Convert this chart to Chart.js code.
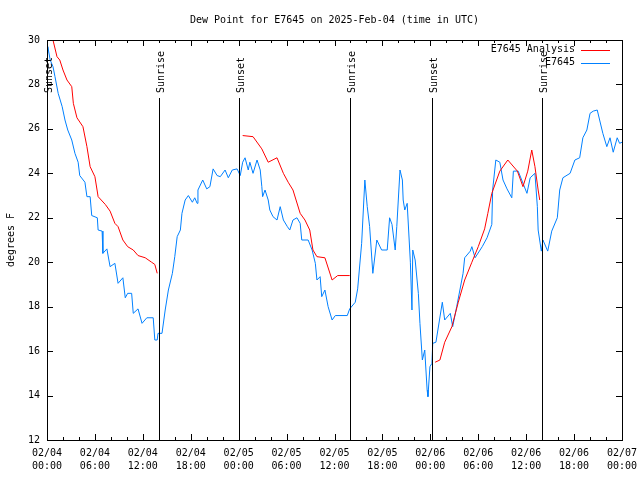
<!DOCTYPE html>
<html>
<head>
<meta charset="utf-8">
<script src="https://cdn.jsdelivr.net/npm/chart.js@4"></script>
<style>
  body { margin: 0; background: #fff; }
  #wrap { width: 640px; height: 480px; }
</style>
</head>
<body>
<div id="wrap"><canvas id="myChart" width="640" height="480"></canvas></div>
<script>
// hours since 02/04 00:00 UTC
const obsHours = [0.0, 0.1, 0.4, 0.75, 1.0, 1.4, 1.9, 2.25, 2.6, 3.1, 3.5, 3.9, 4.1, 4.75, 5.0, 5.4, 5.6, 6.3, 6.4, 6.9,
  7.0, 7.5, 7.9, 8.5, 8.9, 9.5, 9.8, 10.1, 10.6, 10.8, 11.4, 11.9, 12.5, 13.3, 13.5, 13.8, 13.9, 14.4, 14.8, 15.2,
  15.7, 16.0, 16.3, 16.7, 16.9, 17.3, 17.7, 18.2, 18.5, 18.8, 18.9, 19.5, 20.0, 20.4, 20.8, 21.3, 21.7, 22.3, 22.7, 23.2,
  23.8, 24.2, 24.5, 24.8, 25.2, 25.4, 25.8, 26.3, 26.7, 26.9, 27.0, 27.3, 27.7, 27.9, 28.3, 28.8, 29.2, 29.6, 30.1, 30.4,
  30.8, 31.3, 31.7, 31.9, 32.7, 33.2, 33.6, 33.8, 34.2, 34.4, 34.8, 35.2, 35.7, 36.1, 37.6, 37.9, 38.6, 38.9, 39.4, 39.8,
  40.1, 40.4, 40.8, 41.3, 41.9, 42.6, 42.9, 43.2, 43.6, 43.8, 44.2, 44.5, 44.6, 44.8, 45.1, 45.5, 45.7, 45.8, 46.1, 46.5,
  46.7, 47.0, 47.3, 47.6, 47.7, 47.95, 48.2, 48.3, 48.7, 49.5, 49.8, 50.5, 50.8, 51.3, 52.1, 52.3, 53.0, 53.2, 53.6, 54.5,
  55.1, 55.7, 55.8, 56.2, 56.7, 57.1, 57.6, 58.2, 58.4, 59.0, 60.1, 60.5, 61.1, 61.4, 61.5, 61.9, 62.1, 62.7, 63.2, 63.9,
  64.2, 64.6, 65.5, 66.1, 66.7, 67.1, 67.6, 68.0, 68.4, 68.9, 69.2, 69.6, 70.1, 70.5, 70.9, 71.4, 71.7, 72.0];
const obsValues = [29.4, 29.7, 29.1, 28.8, 28.35, 27.6, 27.0, 26.4, 25.95, 25.5, 24.9, 24.5, 23.9, 23.6, 22.95, 22.95, 22.1, 22.0, 21.45, 21.4,
  20.4, 20.6, 19.8, 19.95, 19.05, 19.3, 18.4, 18.6, 18.6, 17.7, 17.9, 17.25, 17.5, 17.5, 16.5, 16.5, 16.8, 16.8, 17.85, 18.75,
  19.5, 20.25, 21.15, 21.45, 22.2, 22.8, 23.0, 22.7, 22.9, 22.65, 23.25, 23.7, 23.3, 23.4, 24.2, 23.9, 23.85, 24.15, 23.8, 24.15,
  24.2, 23.9, 24.5, 24.7, 24.15, 24.5, 24.0, 24.6, 24.15, 23.4, 22.95, 23.25, 22.8, 22.35, 22.05, 21.9, 22.5, 21.9, 21.6, 21.45,
  21.9, 22.0, 21.75, 21.0, 21.0, 20.55, 19.95, 19.2, 19.35, 18.45, 18.75, 18.0, 17.4, 17.6, 17.6, 17.9, 18.2, 18.8, 20.85, 23.7,
  22.5, 21.6, 19.5, 21.0, 20.55, 20.55, 22.0, 21.7, 20.55, 21.6, 24.15, 23.7, 22.8, 22.35, 22.65, 20.0, 17.85, 20.55, 20.1, 18.6,
  17.25, 15.6, 16.05, 14.25, 13.95, 15.3, 15.45, 16.35, 16.4, 18.2, 17.4, 17.7, 17.1, 18.0, 19.5, 20.2, 20.5, 20.7, 20.2, 20.7,
  21.1, 21.7, 23.25, 24.6, 24.5, 23.7, 23.3, 22.9, 24.1, 24.1, 23.1, 23.8, 24.0, 22.5, 21.45, 20.5, 21.0, 20.5, 21.4, 22.0,
  23.25, 23.8, 24.0, 24.6, 24.7, 25.6, 25.95, 26.7, 26.8, 26.85, 26.4, 25.8, 25.2, 25.6, 24.95, 25.6, 25.35, 25.4];

const anaHours = [0.75, 1.25, 1.6, 2.0, 2.5, 3.1, 3.3, 3.75, 4.5, 5.0, 5.4, 6.0, 6.4, 7.3, 7.9, 8.5, 8.9, 9.5, 10.1, 10.8,
  11.4, 12.3, 13.1, 13.5, 13.8, 18.0,
  24.5, 25.8, 26.9, 27.7, 28.8, 29.6, 30.2, 30.8, 31.7, 32.3, 32.9, 33.3, 33.8, 34.8, 35.7, 36.4, 37.9, 42.0,
  48.6, 49.2, 49.8, 50.7, 51.5, 52.3, 53.2, 54.0, 54.8, 55.2, 55.7, 56.7, 57.7, 58.9, 59.6, 60.2, 60.7, 61.1, 61.5, 61.7];
const anaValues = [30.0, 29.25, 29.1, 28.65, 28.2, 27.9, 27.15, 26.5, 26.1, 25.2, 24.3, 23.85, 22.95, 22.6, 22.3, 21.75, 21.6, 21.0, 20.7, 20.55,
  20.3, 20.2, 20.0, 19.9, 19.5, null,
  25.7, 25.65, 25.1, 24.5, 24.7, 24.0, 23.6, 23.25, 22.2, 21.9, 21.45, 20.55, 20.25, 20.2, 19.2, 19.4, 19.4, null,
  15.5, 15.6, 16.4, 17.1, 18.2, 19.2, 20.0, 20.7, 21.5, 22.2, 23.1, 24.1, 24.6, 24.1, 23.4, 24.1, 25.05, 24.3, 23.25, 22.8];

const sunHours = [0.0, 14.0, 24.0, 37.9, 48.2, 62.0];
const sunLabels = ['Sunset', 'Sunrise', 'Sunset', 'Sunrise', 'Sunset', 'Sunrise'];

const yTicks = [12, 14, 16, 18, 20, 22, 24, 26, 28, 30];
const titleText = 'Dew Point for E7645 on 2025-Feb-04 (time in UTC)';
const yTitle = 'degrees F';

const FONT = '10px "DejaVu Sans Mono", monospace';

function xLabel(h) {
  const day = 4 + Math.floor(h / 24);
  const hr = h % 24;
  return ['02/0' + day, String(hr).padStart(2, '0') + ':00'];
}

const framePlugin = {
  id: 'frame',
  afterDraw(chart) {
    const ctx = chart.ctx;
    const a = chart.chartArea;
    const xs = chart.scales.x;
    const ys = chart.scales.y;
    ctx.save();
    ctx.strokeStyle = '#000';
    ctx.lineWidth = 1;
    // border
    ctx.strokeRect(Math.round(a.left) + 0.5, Math.round(a.top) + 0.5, Math.round(a.right - a.left), Math.round(a.bottom - a.top));
    // x ticks
    ctx.beginPath();
    for (let h = 0; h <= 72; h += 2) {
      const px = Math.round(xs.getPixelForValue(h)) + 0.5;
      const len = h % 6 === 0 ? 6 : 3;
      ctx.moveTo(px, a.bottom); ctx.lineTo(px, a.bottom - len);
      ctx.moveTo(px, a.top); ctx.lineTo(px, a.top + len);
    }
    yTicks.forEach(v => {
      const py = Math.round(ys.getPixelForValue(v)) + 0.5;
      ctx.moveTo(a.left, py); ctx.lineTo(a.left + 6, py);
      ctx.moveTo(a.right, py); ctx.lineTo(a.right - 6, py);
    });
    ctx.stroke();
    // sunrise / sunset
    ctx.font = FONT;
    ctx.fillStyle = '#000';
    sunHours.forEach((h, i) => {
      const px = Math.round(xs.getPixelForValue(h)) + 0.5;
      ctx.beginPath();
      ctx.moveTo(px, a.bottom); ctx.lineTo(px, a.top + 58);
      ctx.stroke();
      ctx.save();
      ctx.translate(px + 4, a.top + 53);
      ctx.rotate(-Math.PI / 2);
      ctx.textAlign = 'left';
      ctx.textBaseline = 'alphabetic';
      ctx.fillText(sunLabels[i], 0, 0);
      ctx.restore();
    });
    // title
    ctx.textAlign = 'center';
    ctx.textBaseline = 'middle';
    ctx.fillText(titleText, (a.left + a.right) / 2, 20);
    // y title
    ctx.save();
    ctx.translate(11, (a.top + a.bottom) / 2);
    ctx.rotate(-Math.PI / 2);
    ctx.fillText(yTitle, 0, 0);
    ctx.restore();
    // legend
    ctx.textAlign = 'right';
    chart.data.datasets.forEach((ds, i) => {
      const y = a.top + 9.5 + i * 13;
      ctx.fillStyle = '#000';
      ctx.fillText(ds.label, a.right - 47, y);
      ctx.strokeStyle = ds.borderColor;
      ctx.beginPath();
      ctx.moveTo(a.right - 41, Math.round(y) + 0.5);
      ctx.lineTo(a.right - 12, Math.round(y) + 0.5);
      ctx.stroke();
    });
    ctx.restore();
  }
};

const ctx = document.getElementById('myChart').getContext('2d');
const myChart = new Chart(ctx, {
  type: 'line',
  data: {
    datasets: [{
      label: 'E7645 Analysis',
      data: anaHours.map((h, i) => ({ x: h, y: anaValues[i] })),
      borderColor: '#ff0000',
      borderWidth: 1,
      pointRadius: 0,
      spanGaps: false
    }, {
      label: 'E7645',
      data: obsHours.map((h, i) => ({ x: h, y: obsValues[i] })),
      borderColor: '#0080ff',
      borderWidth: 1,
      pointRadius: 0
    }]
  },
  options: {
    responsive: false,
    animation: false,
    layout: { padding: { top: 40, right: 18, left: 0, bottom: 0 } },
    plugins: { legend: { display: false }, tooltip: { enabled: false } },
    elements: { line: { tension: 0 } },
    scales: {
      x: {
        type: 'linear',
        min: 0,
        max: 72,
        grid: { display: false, drawTicks: false },
        border: { display: false },
        afterFit(scale) {
          scale.height = 40;
          scale.paddingLeft = 0;
          scale.paddingRight = 0;
        },
        ticks: {
          stepSize: 6,
          padding: 7,
          color: '#000',
          maxRotation: 0,
          autoSkip: false,
          font: { family: 'DejaVu Sans Mono', size: 10, lineHeight: 1.3 },
          callback: (v) => xLabel(v)
        }
      },
      y: {
        min: 12,
        max: 30,
        grid: { display: false, drawTicks: false },
        border: { display: false },
        afterFit(scale) {
          scale.width = 47;
          scale.paddingTop = 0;
          scale.paddingBottom = 0;
        },
        ticks: {
          stepSize: 2,
          padding: 7,
          color: '#000',
          font: { family: 'DejaVu Sans Mono', size: 10 }
        }
      }
    }
  },
  plugins: [framePlugin]
});
</script>
</body>
</html>
